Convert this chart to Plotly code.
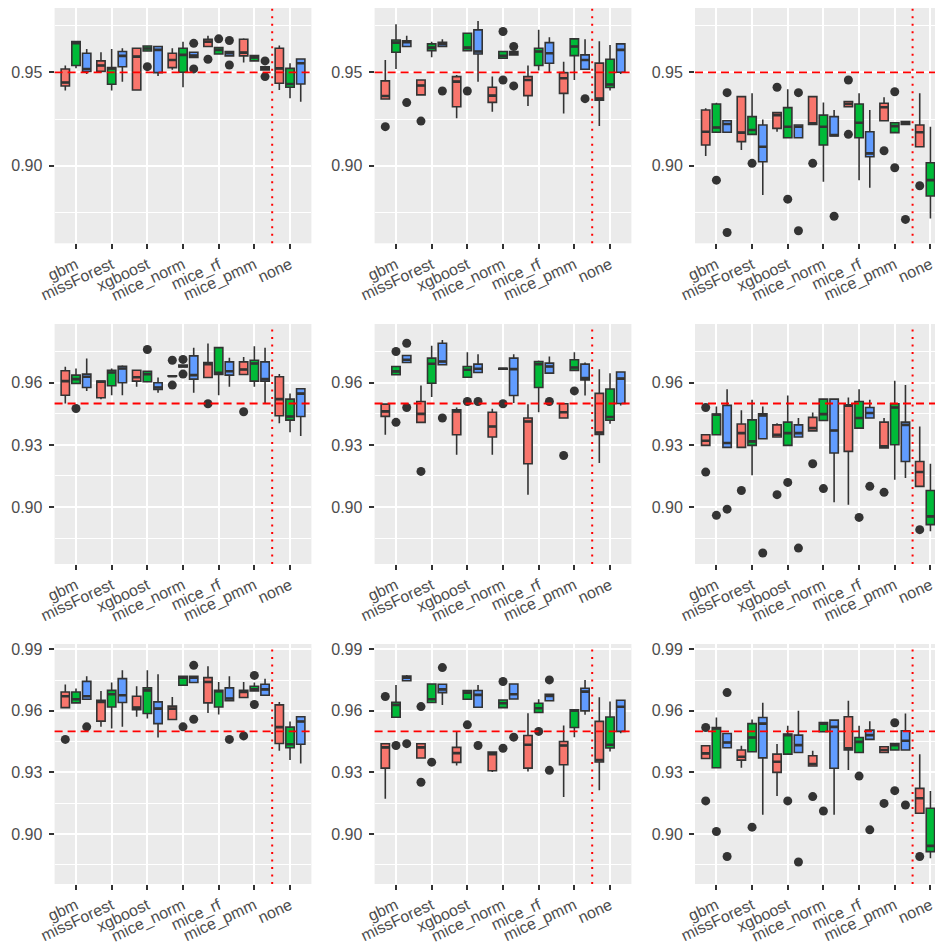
import plotly.graph_objects as go

methods = ["gbm", "missForest", "xgboost", "mice_norm", "mice_rf", "mice_pmm", "none"]
groups = ["A", "B", "C"]
fills = {"A": "#F8766D", "B": "#00BA38", "C": "#619CFF"}

# each box: (lower whisker, q1, median, q3, upper whisker), one row per method
r1c1_stats = {
    "A": [(0.9402, 0.9427, 0.9445, 0.9518, 0.9536), (0.9498, 0.9505, 0.9536, 0.9561, 0.9607),
          (0.9405, 0.9405, 0.9584, 0.9629, 0.9629), (0.9513, 0.9525, 0.9566, 0.9602, 0.9629),
          (0.9638, 0.9638, 0.9664, 0.9677, 0.9695), (0.9552, 0.9588, 0.9605, 0.9677, 0.9682),
          (0.9405, 0.9441, 0.9521, 0.9629, 0.9643)],
    "B": [(0.9521, 0.9536, 0.9655, 0.9664, 0.9666), (0.9402, 0.9436, 0.9520, 0.9525, 0.9625),
          (0.9611, 0.9614, 0.9627, 0.9641, 0.9643), (0.9420, 0.9500, 0.9593, 0.9629, 0.9664),
          (0.9598, 0.9598, 0.9620, 0.9632, 0.9632), (0.9561, 0.9561, 0.9580, 0.9589, 0.9589),
          (0.9361, 0.9420, 0.9437, 0.9521, 0.9548)],
    "C": [(0.9491, 0.9504, 0.9518, 0.9602, 0.9625), (0.9450, 0.9530, 0.9588, 0.9611, 0.9629),
          (0.9480, 0.9498, 0.9620, 0.9638, 0.9641), (0.9579, 0.9579, 0.9589, 0.9607, 0.9607),
          (0.9588, 0.9588, 0.9602, 0.9611, 0.9611), (0.9513, 0.9513, 0.9521, 0.9530, 0.9530),
          (0.9343, 0.9437, 0.9548, 0.9571, 0.9575)],
}
r1c1_out = {
    "A": {"mice_rf": [0.9570]},
    "B": {"xgboost": [0.9530], "mice_rf": [0.9679]},
    "C": {"mice_norm": [0.9655, 0.9518], "mice_rf": [0.9670, 0.9539], "mice_pmm": [0.9561, 0.9477]},
}

r1c2_stats = {
    "A": [(0.9357, 0.9357, 0.9373, 0.9454, 0.9566), (0.9379, 0.9379, 0.9429, 0.9459, 0.9461),
          (0.9254, 0.9316, 0.9450, 0.9477, 0.9486), (0.9289, 0.9339, 0.9375, 0.9420, 0.9477),
          (0.9320, 0.9375, 0.9459, 0.9477, 0.9536), (0.9280, 0.9387, 0.9468, 0.9498, 0.9557),
          (0.9213, 0.9351, 0.9360, 0.9549, 0.9666)],
    "B": [(0.9518, 0.9607, 0.9659, 0.9673, 0.9757), (0.9580, 0.9616, 0.9632, 0.9652, 0.9664),
          (0.9616, 0.9616, 0.9632, 0.9709, 0.9709), (0.9575, 0.9575, 0.9588, 0.9611, 0.9611),
          (0.9509, 0.9536, 0.9611, 0.9629, 0.9727), (0.9459, 0.9589, 0.9638, 0.9679, 0.9680),
          (0.9402, 0.9419, 0.9435, 0.9570, 0.9646)],
    "C": [(0.9638, 0.9638, 0.9661, 0.9668, 0.9696), (0.9638, 0.9638, 0.9650, 0.9661, 0.9677),
          (0.9450, 0.9598, 0.9611, 0.9727, 0.9775), (0.9593, 0.9593, 0.9602, 0.9611, 0.9611),
          (0.9500, 0.9548, 0.9602, 0.9659, 0.9688), (0.9516, 0.9516, 0.9566, 0.9593, 0.9677),
          (0.9491, 0.9500, 0.9620, 0.9652, 0.9655)],
}
r1c2_out = {
    "A": {"gbm": [0.9209], "missForest": [0.9239]},
    "B": {"xgboost": [0.9400], "mice_norm": [0.9718, 0.9459]},
    "C": {"gbm": [0.9338], "missForest": [0.9400], "mice_norm": [0.9638, 0.9427], "mice_pmm": [0.9359]},
}

r1c3_stats = {
    "A": [(0.9052, 0.9111, 0.9182, 0.9298, 0.9307), (0.9084, 0.9129, 0.9177, 0.9370, 0.9370),
          (0.9182, 0.9200, 0.9271, 0.9284, 0.9284), (0.9221, 0.9221, 0.9227, 0.9370, 0.9370),
          (0.9316, 0.9316, 0.9330, 0.9343, 0.9343), (0.9241, 0.9241, 0.9313, 0.9334, 0.9366),
          (0.9102, 0.9102, 0.9179, 0.9218, 0.9388)],
    "B": [(0.9179, 0.9179, 0.9205, 0.9330, 0.9337), (0.9168, 0.9168, 0.9191, 0.9263, 0.9388),
          (0.9150, 0.9150, 0.9209, 0.9311, 0.9409), (0.8914, 0.9111, 0.9209, 0.9271, 0.9338),
          (0.8923, 0.9150, 0.9230, 0.9330, 0.9388), (0.9177, 0.9177, 0.9212, 0.9230, 0.9230),
          (0.8718, 0.8838, 0.8923, 0.9016, 0.9209)],
    "C": [(0.9179, 0.9179, 0.9223, 0.9241, 0.9241), (0.8843, 0.9021, 0.9102, 0.9218, 0.9248),
          (0.9150, 0.9150, 0.9209, 0.9218, 0.9218), (0.9159, 0.9159, 0.9164, 0.9263, 0.9298),
          (0.8882, 0.9048, 0.9066, 0.9182, 0.9298), (0.9221, 0.9221, 0.9227, 0.9236, 0.9236),
          (0.8700, 0.8745, 0.8923, 0.9084, 0.9120)],
}
r1c3_out = {
    "A": {"xgboost": [0.9420], "mice_norm": [0.9013], "mice_rf": [0.9459, 0.9168],
          "mice_pmm": [0.9080], "none": [0.8893]},
    "B": {"gbm": [0.8923], "missForest": [0.9013], "xgboost": [0.8821], "mice_pmm": [0.9396, 0.8989]},
    "C": {"gbm": [0.9391, 0.8643], "xgboost": [0.9391, 0.8652], "mice_norm": [0.8730],
          "mice_pmm": [0.8713]},
}

r2c1_stats = {
    "A": [(0.9500, 0.9540, 0.9608, 0.9658, 0.9677), (0.9521, 0.9528, 0.9605, 0.9608, 0.9608),
          (0.9581, 0.9608, 0.9627, 0.9661, 0.9661), (0.9632, 0.9632, 0.9632, 0.9634, 0.9634),
          (0.9626, 0.9626, 0.9690, 0.9698, 0.9790), (0.9640, 0.9640, 0.9664, 0.9701, 0.9725),
          (0.9405, 0.9441, 0.9521, 0.9629, 0.9643)],
    "B": [(0.9597, 0.9597, 0.9618, 0.9637, 0.9669), (0.9540, 0.9586, 0.9650, 0.9661, 0.9669),
          (0.9605, 0.9605, 0.9642, 0.9656, 0.9656), (0.9676, 0.9676, 0.9680, 0.9686, 0.9686),
          (0.9540, 0.9640, 0.9648, 0.9770, 0.9772), (0.9581, 0.9608, 0.9693, 0.9709, 0.9777),
          (0.9361, 0.9420, 0.9437, 0.9521, 0.9548)],
    "C": [(0.9561, 0.9577, 0.9629, 0.9642, 0.9717), (0.9540, 0.9600, 0.9669, 0.9680, 0.9685),
          (0.9552, 0.9568, 0.9577, 0.9600, 0.9626), (0.9552, 0.9618, 0.9637, 0.9730, 0.9769),
          (0.9581, 0.9637, 0.9656, 0.9701, 0.9721), (0.9500, 0.9608, 0.9618, 0.9701, 0.9769),
          (0.9343, 0.9437, 0.9548, 0.9571, 0.9575)],
}
r2c1_out = {
    "A": {"mice_norm": [0.9709, 0.9589], "mice_rf": [0.9499], "mice_pmm": [0.9460]},
    "B": {"gbm": [0.9476], "xgboost": [0.9761], "mice_norm": [0.9713, 0.9642]},
    "C": {},
}

r2c2_stats = {
    "A": [(0.9349, 0.9438, 0.9462, 0.9497, 0.9497), (0.9409, 0.9409, 0.9450, 0.9510, 0.9587),
          (0.9253, 0.9349, 0.9462, 0.9470, 0.9481), (0.9253, 0.9338, 0.9389, 0.9458, 0.9475),
          (0.9060, 0.9209, 0.9413, 0.9430, 0.9497), (0.9430, 0.9430, 0.9458, 0.9499, 0.9499),
          (0.9213, 0.9351, 0.9360, 0.9549, 0.9666)],
    "B": [(0.9639, 0.9639, 0.9655, 0.9679, 0.9679), (0.9531, 0.9598, 0.9692, 0.9719, 0.9779),
          (0.9627, 0.9627, 0.9663, 0.9679, 0.9748), (0.9666, 0.9666, 0.9668, 0.9670, 0.9670),
          (0.9458, 0.9577, 0.9690, 0.9703, 0.9708), (0.9660, 0.9660, 0.9674, 0.9711, 0.9748),
          (0.9402, 0.9419, 0.9435, 0.9570, 0.9646)],
    "C": [(0.9698, 0.9698, 0.9711, 0.9732, 0.9732), (0.9687, 0.9687, 0.9703, 0.9791, 0.9807),
          (0.9650, 0.9650, 0.9668, 0.9690, 0.9738), (0.9502, 0.9539, 0.9666, 0.9719, 0.9738),
          (0.9647, 0.9647, 0.9679, 0.9695, 0.9727), (0.9539, 0.9614, 0.9623, 0.9690, 0.9698),
          (0.9491, 0.9500, 0.9620, 0.9652, 0.9655)],
}
r2c2_out = {
    "A": {"missForest": [0.9172], "mice_pmm": [0.9249]},
    "B": {"gbm": [0.9751, 0.9409], "xgboost": [0.9510], "mice_norm": [0.9499], "mice_pmm": [0.9561]},
    "C": {"gbm": [0.9791, 0.9481], "missForest": [0.9430], "xgboost": [0.9510], "mice_rf": [0.9510]},
}

r2c3_stats = {
    "A": [(0.9298, 0.9298, 0.9320, 0.9349, 0.9349), (0.9288, 0.9288, 0.9357, 0.9401, 0.9467),
          (0.9338, 0.9338, 0.9349, 0.9397, 0.9405), (0.9368, 0.9368, 0.9381, 0.9433, 0.9457),
          (0.9011, 0.9269, 0.9489, 0.9494, 0.9529), (0.9285, 0.9285, 0.9293, 0.9410, 0.9430),
          (0.9100, 0.9100, 0.9169, 0.9220, 0.9389)],
    "B": [(0.9349, 0.9349, 0.9446, 0.9449, 0.9486), (0.9153, 0.9298, 0.9317, 0.9421, 0.9518),
          (0.9298, 0.9298, 0.9357, 0.9410, 0.9539), (0.9418, 0.9418, 0.9449, 0.9521, 0.9521),
          (0.9381, 0.9381, 0.9430, 0.9510, 0.9569), (0.9132, 0.9301, 0.9481, 0.9499, 0.9610),
          (0.8883, 0.8915, 0.8955, 0.9080, 0.9209)],
    "C": [(0.9288, 0.9288, 0.9309, 0.9491, 0.9569), (0.9330, 0.9330, 0.9442, 0.9450, 0.9486),
          (0.9338, 0.9338, 0.9357, 0.9397, 0.9430), (0.9023, 0.9261, 0.9370, 0.9521, 0.9521),
          (0.9430, 0.9430, 0.9454, 0.9481, 0.9518), (0.9140, 0.9220, 0.9397, 0.9410, 0.9590),
          (0.9090, 0.9090, 0.9100, 0.9108, 0.9108)],
}
r2c3_out = {
    "A": {"gbm": [0.9481, 0.9169], "missForest": [0.9080], "xgboost": [0.9060],
          "mice_norm": [0.9209], "mice_pmm": [0.9071], "none": [0.8891]},
    "B": {"gbm": [0.8960], "xgboost": [0.9119], "mice_norm": [0.9089], "mice_rf": [0.8950]},
    "C": {"gbm": [0.8990], "missForest": [0.8778], "xgboost": [0.8802], "mice_rf": [0.9100]},
}

r3c1_stats = {
    "A": [(0.9616, 0.9616, 0.9671, 0.9692, 0.9728), (0.9522, 0.9550, 0.9644, 0.9652, 0.9697),
          (0.9571, 0.9606, 0.9616, 0.9671, 0.9720), (0.9558, 0.9558, 0.9611, 0.9623, 0.9668),
          (0.9590, 0.9639, 0.9741, 0.9762, 0.9817), (0.9665, 0.9665, 0.9692, 0.9700, 0.9741),
          (0.9405, 0.9441, 0.9521, 0.9629, 0.9643)],
    "B": [(0.9639, 0.9639, 0.9657, 0.9692, 0.9709), (0.9514, 0.9619, 0.9681, 0.9700, 0.9738),
          (0.9563, 0.9587, 0.9700, 0.9712, 0.9798), (0.9725, 0.9725, 0.9762, 0.9769, 0.9769),
          (0.9582, 0.9619, 0.9696, 0.9700, 0.9741), (0.9697, 0.9697, 0.9705, 0.9720, 0.9738),
          (0.9361, 0.9420, 0.9437, 0.9521, 0.9548)],
    "C": [(0.9657, 0.9657, 0.9671, 0.9744, 0.9769), (0.9522, 0.9641, 0.9676, 0.9757, 0.9798),
          (0.9470, 0.9538, 0.9611, 0.9644, 0.9778), (0.9738, 0.9738, 0.9762, 0.9769, 0.9769),
          (0.9649, 0.9649, 0.9660, 0.9712, 0.9769), (0.9676, 0.9676, 0.9705, 0.9730, 0.9757),
          (0.9343, 0.9437, 0.9548, 0.9571, 0.9575)],
}
r3c1_out = {
    "A": {"gbm": [0.9461], "mice_pmm": [0.9478]},
    "B": {"mice_norm": [0.9522], "mice_pmm": [0.9773, 0.9631]},
    "C": {"gbm": [0.9522], "mice_norm": [0.9822, 0.9559], "mice_rf": [0.9461]},
}

r3c2_stats = {
    "A": [(0.9172, 0.9321, 0.9422, 0.9440, 0.9440), (0.9370, 0.9370, 0.9422, 0.9440, 0.9440),
          (0.9334, 0.9349, 0.9394, 0.9422, 0.9500), (0.9302, 0.9308, 0.9389, 0.9399, 0.9399),
          (0.9305, 0.9321, 0.9435, 0.9480, 0.9589), (0.9180, 0.9337, 0.9431, 0.9451, 0.9529),
          (0.9213, 0.9351, 0.9360, 0.9549, 0.9666)],
    "B": [(0.9569, 0.9569, 0.9629, 0.9642, 0.9726), (0.9641, 0.9641, 0.9657, 0.9731, 0.9731),
          (0.9657, 0.9657, 0.9689, 0.9699, 0.9699), (0.9616, 0.9616, 0.9637, 0.9653, 0.9653),
          (0.9592, 0.9592, 0.9613, 0.9637, 0.9657), (0.9472, 0.9519, 0.9602, 0.9605, 0.9605),
          (0.9402, 0.9419, 0.9435, 0.9570, 0.9646)],
    "C": [(0.9747, 0.9747, 0.9762, 0.9770, 0.9775), (0.9629, 0.9689, 0.9705, 0.9730, 0.9730),
          (0.9618, 0.9618, 0.9678, 0.9699, 0.9726), (0.9658, 0.9658, 0.9681, 0.9731, 0.9731),
          (0.9649, 0.9649, 0.9673, 0.9681, 0.9681), (0.9581, 0.9600, 0.9694, 0.9710, 0.9751),
          (0.9491, 0.9500, 0.9620, 0.9652, 0.9655)],
}
r3c2_out = {
    "A": {"gbm": [0.9670], "missForest": [0.9621, 0.9252]},
    "B": {"gbm": [0.9431], "missForest": [0.9350], "xgboost": [0.9532],
          "mice_norm": [0.9743, 0.9418], "mice_rf": [0.9500]},
    "C": {"gbm": [0.9440], "missForest": [0.9811], "xgboost": [0.9431], "mice_norm": [0.9472],
          "mice_rf": [0.9751, 0.9310]},
}

r3c3_stats = {
    "A": [(0.9368, 0.9368, 0.9393, 0.9430, 0.9430), (0.9323, 0.9360, 0.9376, 0.9409, 0.9430),
          (0.9185, 0.9300, 0.9352, 0.9389, 0.9438), (0.9331, 0.9331, 0.9341, 0.9381, 0.9406),
          (0.9312, 0.9409, 0.9417, 0.9571, 0.9649), (0.9397, 0.9397, 0.9409, 0.9425, 0.9425),
          (0.9101, 0.9101, 0.9174, 0.9222, 0.9389)],
    "B": [(0.9323, 0.9323, 0.9514, 0.9519, 0.9568), (0.9401, 0.9401, 0.9470, 0.9538, 0.9558),
          (0.9389, 0.9389, 0.9482, 0.9487, 0.9527), (0.9498, 0.9498, 0.9538, 0.9543, 0.9543),
          (0.9397, 0.9397, 0.9449, 0.9470, 0.9527), (0.9409, 0.9409, 0.9433, 0.9441, 0.9441),
          (0.8882, 0.8914, 0.8942, 0.9125, 0.9209)],
    "C": [(0.9420, 0.9420, 0.9446, 0.9490, 0.9490), (0.9093, 0.9371, 0.9538, 0.9568, 0.9639),
          (0.9397, 0.9397, 0.9433, 0.9482, 0.9600), (0.9093, 0.9320, 0.9522, 0.9555, 0.9558),
          (0.9461, 0.9461, 0.9482, 0.9506, 0.9550), (0.9409, 0.9409, 0.9454, 0.9503, 0.9587),
          (0.9085, 0.9085, 0.9097, 0.9109, 0.9109)],
}
r3c3_out = {
    "A": {"gbm": [0.9519, 0.9161], "mice_norm": [0.9182], "mice_pmm": [0.9149], "none": [0.8890]},
    "B": {"gbm": [0.9012], "missForest": [0.9033], "xgboost": [0.9161], "mice_norm": [0.9112],
          "mice_rf": [0.9282], "mice_pmm": [0.9542, 0.9211]},
    "C": {"gbm": [0.9689, 0.8890], "xgboost": [0.8863], "mice_rf": [0.9020], "mice_pmm": [0.9141]},
}

panels = [
    (r1c1_stats, r1c1_out), (r1c2_stats, r1c2_out), (r1c3_stats, r1c3_out),
    (r2c1_stats, r2c1_out), (r2c2_stats, r2c2_out), (r2c3_stats, r2c3_out),
    (r3c1_stats, r3c1_out), (r3c2_stats, r3c2_out), (r3c3_stats, r3c3_out),
]

target = 0.95
row_ranges = [[0.8585, 0.9844], [0.8725, 0.9884], [0.8756, 0.9926]]
row_dtick = [0.05, 0.03, 0.03]

# the page body adds an 8px offset, so the figure is sized to the visible area
W, H = 935, 940
PX_PER_CAT = 35.67
col_px = [(46.6, 303.4), (366.6, 623.4), (687.0, 935.0)]
row_px = [(0.0, 235.3), (316.0, 556.0), (636.0, 876.0)]

fig = go.Figure()
font = dict(family="Liberation Sans, Arial, sans-serif", size=16, color="#4D4D4D")
edge = "#333333"

for k, (stats, outl) in enumerate(panels):
    r, c = divmod(k, 3)
    sfx = "" if k == 0 else str(k + 1)
    for g in groups:
        s = stats[g]
        fig.add_trace(go.Box(
            x=methods,
            lowerfence=[v[0] for v in s], q1=[v[1] for v in s], median=[v[2] for v in s],
            q3=[v[3] for v in s], upperfence=[v[4] for v in s],
            orientation="v", boxpoints=False, offsetgroup=g,
            fillcolor=fills[g], line=dict(color=edge, width=1.6), whiskerwidth=0,
            xaxis="x" + sfx, yaxis="y" + sfx, showlegend=False, hoverinfo="skip",
        ))
        # heavier median bar, like ggplot's fattened median line
        med = [v[2] for v in s]
        fig.add_trace(go.Box(
            x=methods, lowerfence=med, q1=med, median=med, q3=med, upperfence=med,
            orientation="v", boxpoints=False, offsetgroup=g,
            fillcolor="rgba(0,0,0,0)", line=dict(color=edge, width=2.6), whiskerwidth=0,
            xaxis="x" + sfx, yaxis="y" + sfx, showlegend=False, hoverinfo="skip",
        ))
    for g in groups:
        o = outl.get(g, {})
        ox = [m for m in methods for _ in o.get(m, [])]
        oy = [v for m in methods for v in o.get(m, [])]
        if not ox:
            ox, oy = [methods[0]], [None]
        fig.add_trace(go.Scatter(
            x=ox, y=oy, mode="markers", offsetgroup=g,
            marker=dict(color=edge, size=9),
            xaxis="x" + sfx, yaxis="y" + sfx, showlegend=False, hoverinfo="skip",
        ))

    x0, x1 = col_px[c]
    y0, y1 = row_px[r]
    xr = [-0.6, -0.6 + (x1 - x0) / PX_PER_CAT]
    fig.layout["xaxis" + sfx] = dict(
        domain=[x0 / W, x1 / W], anchor="y" + sfx, type="category",
        categoryorder="array", categoryarray=methods, range=xr,
        showgrid=True, gridcolor="white", gridwidth=2, zeroline=False,
        ticks="outside", ticklen=5, tickwidth=1.5, tickcolor=edge,
        tickangle=-25, tickfont=font, showline=False, automargin=False,
    )
    fig.layout["yaxis" + sfx] = dict(
        domain=[1 - y1 / H, 1 - y0 / H], anchor="x" + sfx, range=row_ranges[r],
        tick0=0.9, dtick=row_dtick[r], tickformat=".2f",
        showgrid=True, gridcolor="white", gridwidth=2, zeroline=False,
        ticks="outside", ticklen=5, tickwidth=1.5, tickcolor=edge,
        tickfont=font, ticklabelstandoff=3, automargin=False,
        minor=dict(tick0=0.9, dtick=row_dtick[r] / 2, showgrid=True, gridcolor="white",
                   gridwidth=1, ticks=""),
    )
    fig.add_shape(type="line", xref="x" + sfx + " domain", x0=0, x1=1,
                  yref="y" + sfx, y0=target, y1=target,
                  line=dict(color="#FF0000", width=1.8, dash="8px,5px"))
    fig.add_shape(type="line", xref="x" + sfx, x0=5.5, x1=5.5,
                  yref="y" + sfx + " domain", y0=0, y1=1,
                  line=dict(color="#FF0000", width=2, dash="2px,5.5px"))

fig.update_layout(
    width=W, height=H, autosize=False,
    margin=dict(l=0, r=0, t=0, b=0, pad=0),
    paper_bgcolor="white", plot_bgcolor="#EBEBEB",
    boxmode="group", boxgap=0.1, boxgroupgap=0.22,
    scattermode="group", scattergap=0.1,
    showlegend=False,
    font=font,
)

fig.write_html("out.html")
